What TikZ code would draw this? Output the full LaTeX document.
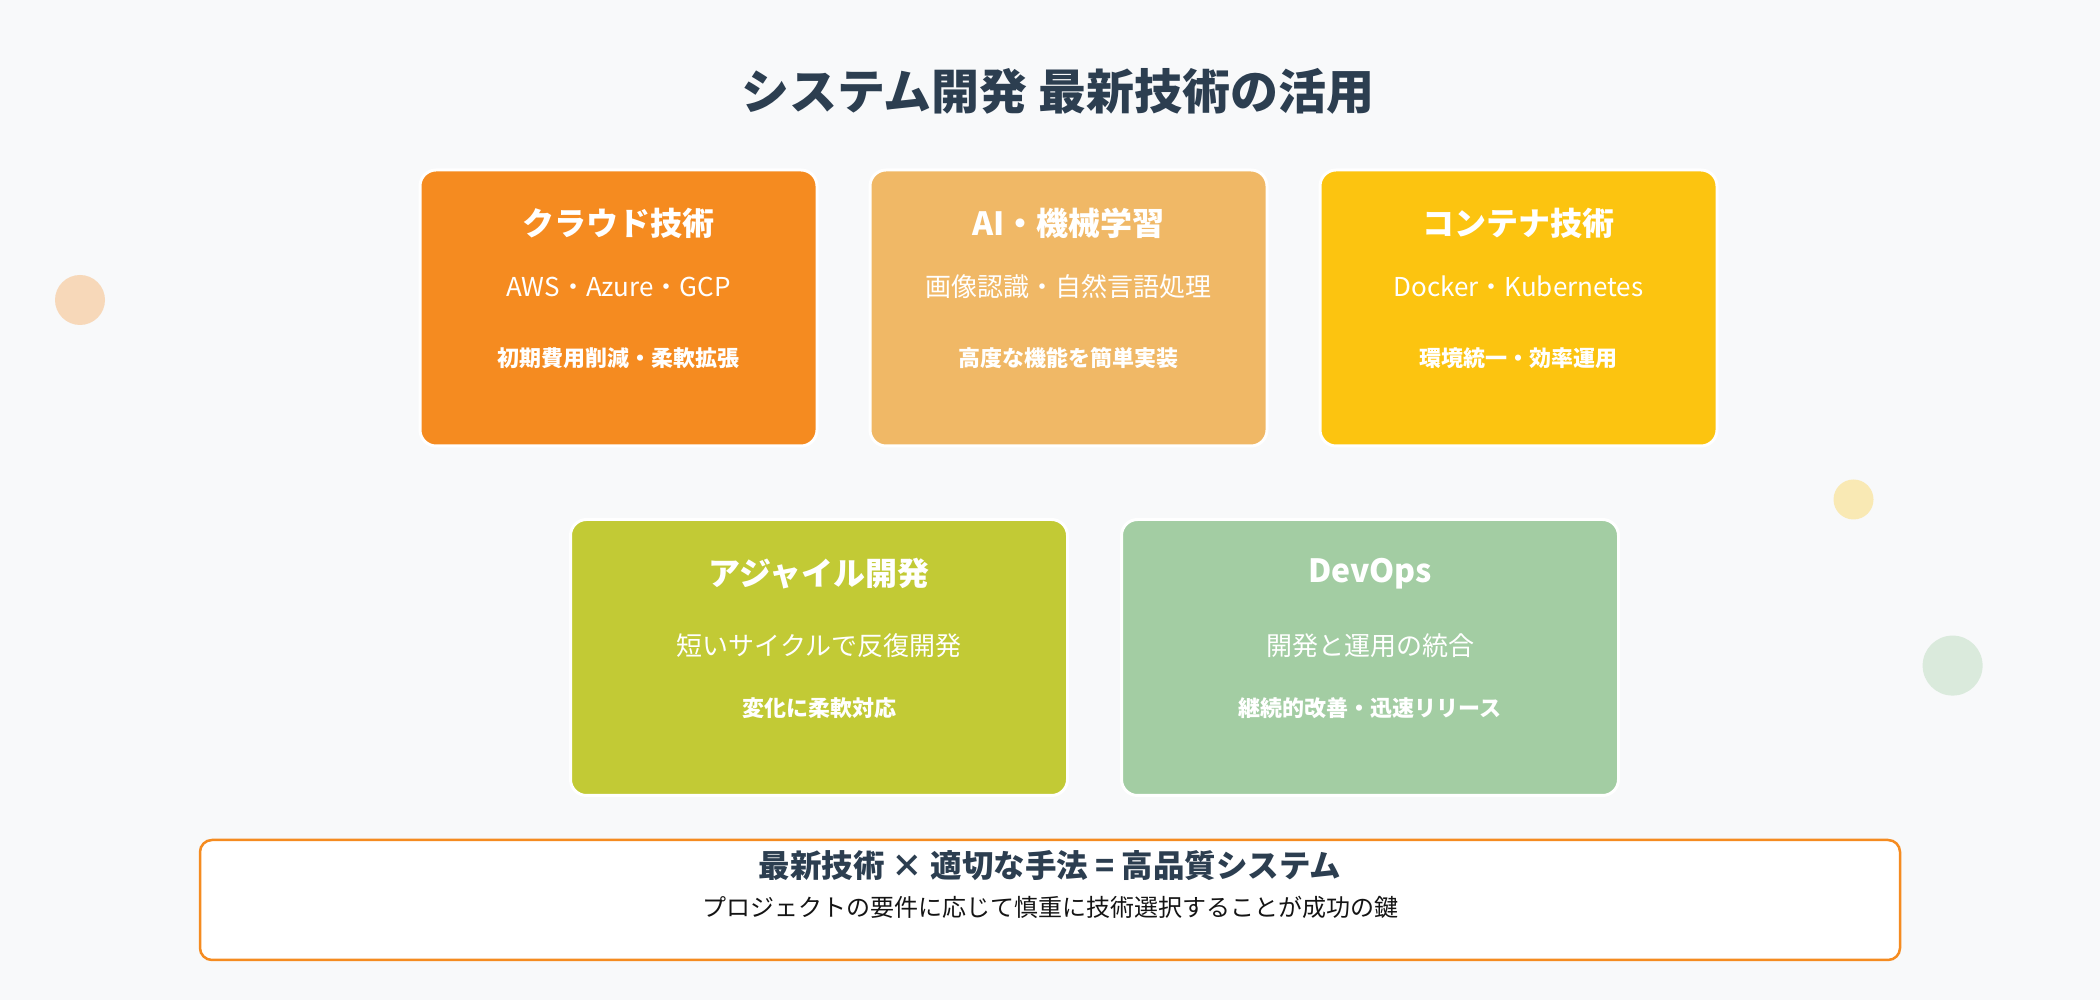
\documentclass[tikz,border=0pt]{standalone}
\usepackage{fontspec}
\setmainfont{Noto Sans CJK JP}
\usepackage{tikz}
\usetikzlibrary{positioning}
\definecolor{fondo}{HTML}{F8F9FA}
\definecolor{oscuro}{HTML}{2C3E50}
\definecolor{naranja}{HTML}{F58B20}
\definecolor{arena}{HTML}{F0B866}
\definecolor{amarillo}{HTML}{FCC410}
\definecolor{oliva}{HTML}{C2CA35}
\definecolor{salvia}{HTML}{A3CDA3}
\tikzstyle{tarjeta} = [draw=white, line width=3pt, rounded corners=16pt, minimum width=397pt, minimum height=276pt]
\tikzstyle{tarjetaancha} = [tarjeta, minimum width=497pt]
\tikzstyle{titulo} = [text=white, font=\bfseries\fontsize{32}{37}\selectfont]
\tikzstyle{subtitulo} = [text=white, font=\fontsize{26}{31}\selectfont]
\tikzstyle{detalle} = [text=white, font=\bfseries\fontsize{22}{26}\selectfont]
\tikzstyle{resumen} = [draw=naranja, line width=2.5pt, fill=white, rounded corners=12pt, minimum width=1700pt, minimum height=120pt]
\begin{document}
\begin{tikzpicture}[x=1pt,y=1pt]
	\fill[fondo] (0,0) rectangle (2100,1000);
	% circulos de fondo
	\fill[naranja!30!fondo] (80,700) circle (25);
	\fill[amarillo!30!fondo] (1853.5,500.5) circle (20);
	\fill[salvia!35!fondo] (1952.6,334.4) circle (30);

	\node[text=oscuro, font=\bfseries\fontsize{48}{54}\selectfont] (titulo) at (1058,909) {システム開発 最新技術の活用};

	% fila superior
	\node[tarjeta, fill=naranja] (nube) at (618.5,692) {};
	\node[tarjeta, fill=arena, right=50pt of nube] (ia) {};
	\node[tarjeta, fill=amarillo, right=50pt of ia] (contenedor) {};
	\node[titulo] (nubeT) at ([yshift=-55pt]nube.north) {クラウド技術};
	\node[subtitulo] (nubeS) at ([yshift=-118pt]nube.north) {AWS・Azure・GCP};
	\node[detalle] (nubeD) at ([yshift=-190pt]nube.north) {初期費用削減・柔軟拡張};
	\node[titulo] (iaT) at ([yshift=-55pt]ia.north) {AI・機械学習};
	\node[subtitulo] (iaS) at ([yshift=-118pt]ia.north) {画像認識・自然言語処理};
	\node[detalle] (iaD) at ([yshift=-190pt]ia.north) {高度な機能を簡単実装};
	\node[titulo] (contenedorT) at ([yshift=-55pt]contenedor.north) {コンテナ技術};
	\node[subtitulo] (contenedorS) at ([yshift=-118pt]contenedor.north) {Docker・Kubernetes};
	\node[detalle] (contenedorD) at ([yshift=-190pt]contenedor.north) {環境統一・効率運用};

	% fila inferior
	\node[tarjetaancha, fill=oliva] (agil) at (819,342.5) {};
	\node[tarjetaancha, fill=salvia, right=51pt of agil] (devops) {};
	\node[titulo] (agilT) at ([yshift=-56pt]agil.north) {アジャイル開発};
	\node[subtitulo] (agilS) at ([yshift=-128pt]agil.north) {短いサイクルで反復開発};
	\node[detalle] (agilD) at ([yshift=-190pt]agil.north) {変化に柔軟対応};
	\node[titulo] (devopsT) at ([yshift=-56pt]devops.north) {DevOps};
	\node[subtitulo] (devopsS) at ([yshift=-128pt]devops.north) {開発と運用の統合};
	\node[detalle] (devopsD) at ([yshift=-190pt]devops.north) {継続的改善・迅速リリース};

	% conclusion
	\node[resumen] (resumen) at (1050,100) {};
	\node[text=oscuro, font=\bfseries\fontsize{31.5}{37}\selectfont] (resumenT) at ([yshift=-27pt]resumen.north) {最新技術 × 適切な手法 = 高品質システム};
	\node[text=black!92, font=\fontsize{24}{29}\selectfont] (resumenS) at ([yshift=-69pt]resumen.north) {プロジェクトの要件に応じて慎重に技術選択することが成功の鍵};
\end{tikzpicture}
\end{document}
